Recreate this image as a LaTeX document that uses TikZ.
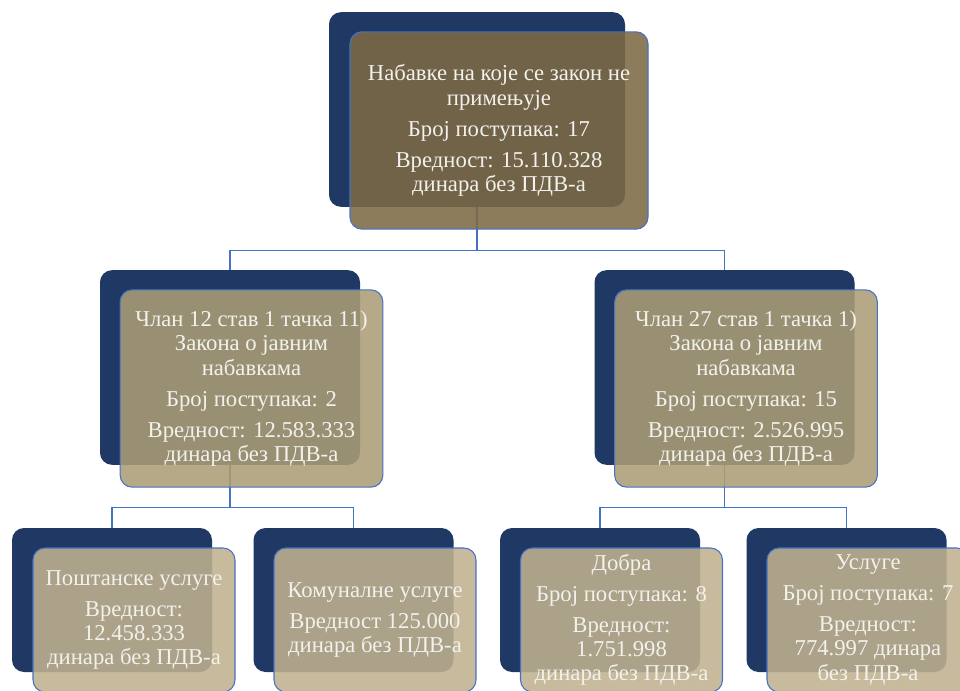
\documentclass[tikz,border=0pt]{standalone}
\usepackage{fontspec}
\setmainfont{Liberation Serif}
\definecolor{navy}{RGB}{31,56,100}
\definecolor{linkblue}{RGB}{68,114,196}
\definecolor{tanA}{RGB}{125,106,69}
\definecolor{tanB}{RGB}{171,157,119}
\definecolor{tanC}{RGB}{191,177,143}
\definecolor{txt}{RGB}{243,241,236}
\tikzset{
  back/.style={fill=navy, rounded corners=9pt, inner sep=0pt},
  front/.style={draw=linkblue, line width=0.8pt, fill opacity=0.88, text opacity=1,
    rounded corners=9pt, inner sep=0pt, text=txt, align=center,
    font=\fontsize{17}{18.2}\selectfont},
  link/.style={draw=linkblue, line width=0.8pt}
}

\begin{document}
\begin{tikzpicture}[x=0.75pt,y=-0.75pt]
\useasboundingbox (0,0) rectangle (960,691);
\clip (0,0) rectangle (960,691);
% dark boxes
\node[back, minimum width=222pt, minimum height=146pt] (b0) at (477,109.5) {};
\node[back, minimum width=195pt, minimum height=146pt] (b1) at (230,367.5) {};
\node[back, minimum width=195pt, minimum height=146pt] (b2) at (724.5,367.5) {};
\node[back, minimum width=150pt, minimum height=108pt] (b11) at (112,600) {};
\node[back, minimum width=150pt, minimum height=108pt] (b12) at (353.5,600) {};
\node[back, minimum width=150pt, minimum height=108pt] (b21) at (600,600) {};
\node[back, minimum width=150pt, minimum height=108pt] (b22) at (846.5,600) {};
% connectors
\draw[link] (b0.south) -- ++(0,43) -| (b1.north);
\draw[link] (b0.south) -- ++(0,43) -| (b2.north);
\draw[link] (b1.south) -- ++(0,42) -| (b11.north);
\draw[link] (b1.south) -- ++(0,42) -| (b12.north);
\draw[link] (b2.south) -- ++(0,42) -| (b21.north);
\draw[link] (b2.south) -- ++(0,42) -| (b22.north);
% light boxes
\node[front, fill=tanA, minimum width=223.5pt, minimum height=148pt] (f0) at (499,130.5)
  {Набавке на које се закон не\\примењује\\[5pt]Број поступака: 17\\[5pt]Вредност: 15.110.328\\динара без ПДВ-а};
\node[front, fill=tanB, minimum width=197pt, minimum height=148pt] (f1) at (251.5,388.5)
  {Члан 12 став 1 тачка 11)\\Закона о јавним\\набавкама\\[5pt]Број поступака: 2\\[5pt]Вредност: 12.583.333\\динара без ПДВ-а};
\node[front, fill=tanB, minimum width=197pt, minimum height=148pt] (f2) at (746,388.5)
  {Члан 27 став 1 тачка 1)\\Закона о јавним\\набавкама\\[5pt]Број поступака: 15\\[5pt]Вредност: 2.526.995\\динара без ПДВ-а};
\node[front, fill=tanC, minimum width=151.5pt, minimum height=108pt] (f11) at (134,620)
  {Поштанске услуге\\[5pt]Вредност:\\12.458.333\\динара без ПДВ-а};
\node[front, fill=tanC, minimum width=151.5pt, minimum height=108pt] (f12) at (375,620)
  {Комуналне услуге\\[5pt]Вредност 125.000\\динара без ПДВ-а};
\node[front, fill=tanC, minimum width=151.5pt, minimum height=108pt] (f21) at (621.5,620)
  {Добра\\[5pt]Број поступака: 8\\[5pt]Вредност:\\1.751.998\\динара без ПДВ-а};
\node[front, fill=tanC, minimum width=151.5pt, minimum height=108pt] (f22) at (868,620)
  {Услуге\\[5pt]Број поступака: 7\\[5pt]Вредност:\\774.997 динара\\без ПДВ-а};
\end{tikzpicture}
\end{document}
